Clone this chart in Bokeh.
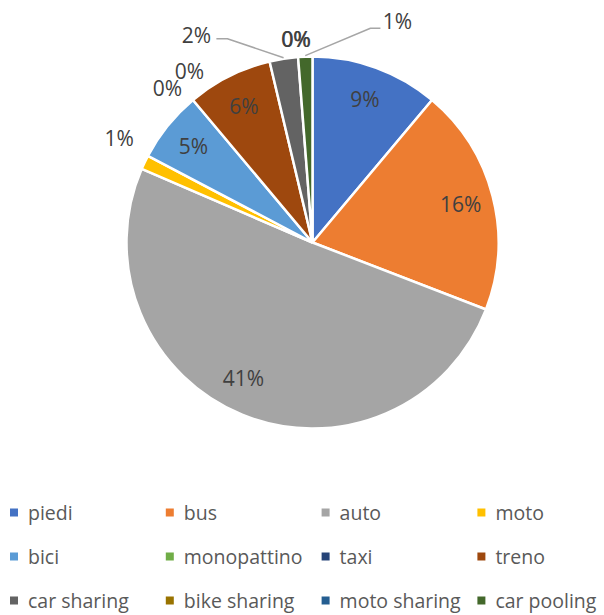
import math
from bokeh.plotting import figure
from bokeh.models import Range1d, ColumnDataSource
from bokeh.core.properties import value
from bokeh.embed import file_html
from bokeh.resources import INLINE

# ---- data ----
categories = ["piedi", "bus", "auto", "moto", "bici", "monopattino", "taxi",
              "treno", "car sharing", "bike sharing", "moto sharing", "car pooling"]
values = [9, 16, 41, 1, 5, 0, 0, 6, 2, 0, 0, 1]
colors = ["#4472C4", "#ED7D31", "#A5A5A5", "#FFC000", "#5B9BD5", "#70AD47",
          "#264478", "#9E480E", "#636363", "#997300", "#255E91", "#43682B"]

# ---- layout (screen pixels of the page) ----
PAGE_W, PAGE_H = 604, 615
CX, CY, R = 312, 242, 186
INSIDE_R = 153
# outside / adjusted label placements: (radius, clockwise angle from 12 o'clock)
label_polar = {
    "auto": (152, 207.0),
    "moto": (220, 298.5),
    "monopattino": (212, 316.8),
    "taxi": (211, 324.3),
    "car sharing": (238, 330.8),
    "bike sharing": (204, 355.3),
    "moto sharing": (204, 355.5),
    "car pooling": (237, 21.0),
}

def to_data(sx, sy):
    return sx, PAGE_H - sy

total = sum(values)
starts, ends, mids = [], [], []
cum = 0.0
for v in values:
    a0 = cum / total * 360.0
    cum += v
    a1 = cum / total * 360.0
    starts.append(a0)
    ends.append(a1)
    mids.append((a0 + a1) / 2)

nz = [i for i, v in enumerate(values) if v > 0]
cx, cy = to_data(CX, CY)
wedge_src = ColumnDataSource(dict(
    start=[math.radians(90 - starts[i]) for i in nz],
    end=[math.radians(90 - ends[i]) for i in nz],
    color=[colors[i] for i in nz],
    cat=[categories[i] for i in nz],
))

p = figure(width=PAGE_W, height=PAGE_H, output_backend="svg", toolbar_location=None,
           x_range=Range1d(0, PAGE_W), y_range=Range1d(0, PAGE_H), min_border=0)
p.axis.visible = False
p.grid.visible = False
p.outline_line_color = None
p.background_fill_color = "white"

p.wedge(x=cx, y=cy, radius=R, radius_units="screen", start_angle="start", end_angle="end",
        direction="clock", fill_color="color", line_color="white", line_width=2.5,
        source=wedge_src)

# ---- data labels ----
lx, ly, lt = [], [], []
anchor = {}
for cat, v, m in zip(categories, values, mids):
    r, ang = label_polar.get(cat, (INSIDE_R, m))
    sx = CX + r * math.sin(math.radians(ang))
    sy = CY - r * math.cos(math.radians(ang))
    x, y = to_data(sx, sy)
    lx.append(x); ly.append(y); lt.append(f"{v}%")
    anchor[cat] = (sx, sy, m)

p.text(x=lx, y=ly, text=lt, text_align="center", text_baseline="middle",
       text_font=value("Open Sans"), text_font_size="21px", text_color="#404040")

# leader lines
def edge_point(ang, r=R + 1):
    sx = CX + r * math.sin(math.radians(ang))
    sy = CY - r * math.cos(math.radians(ang))
    return sx, sy

xs, ys = [], []
sx, sy, m = anchor["car sharing"]
ex, ey = edge_point(m)
pts = [(sx + 20, sy + 4), (sx + 31, sy + 4), (ex, ey)]
xs.append([q[0] for q in pts]); ys.append([PAGE_H - q[1] for q in pts])
sx, sy, m = anchor["car pooling"]
ex, ey = edge_point(m)
pts = [(sx - 17, sy + 7), (sx - 27, sy + 7), (ex, ey)]
xs.append([q[0] for q in pts]); ys.append([PAGE_H - q[1] for q in pts])
p.multi_line(xs=xs, ys=ys, line_color="#A6A6A6", line_width=1.5)

# ---- legend ----
LEG_X0, LEG_DX, LEG_Y0, LEG_DY, LEG_TXT = 13.5, 155.8, 512, 44, 14
mx, my, tx, ty = [], [], [], []
for i, cat in enumerate(categories):
    col, row = i % 4, i // 4
    sxm = LEG_X0 + col * LEG_DX
    sym = LEG_Y0 + row * LEG_DY
    mx.append(sxm); my.append(PAGE_H - sym)
    tx.append(sxm + LEG_TXT); ty.append(PAGE_H - sym)
p.scatter(x=mx, y=my, marker="square", size=8, fill_color=colors, line_color=None)
p.text(x=tx, y=ty, text=categories, text_align="left", text_baseline="middle",
       text_font=value("Open Sans"), text_font_size="19.5px", text_color="#595959")

open("out.html", "w").write(file_html(p, INLINE))
